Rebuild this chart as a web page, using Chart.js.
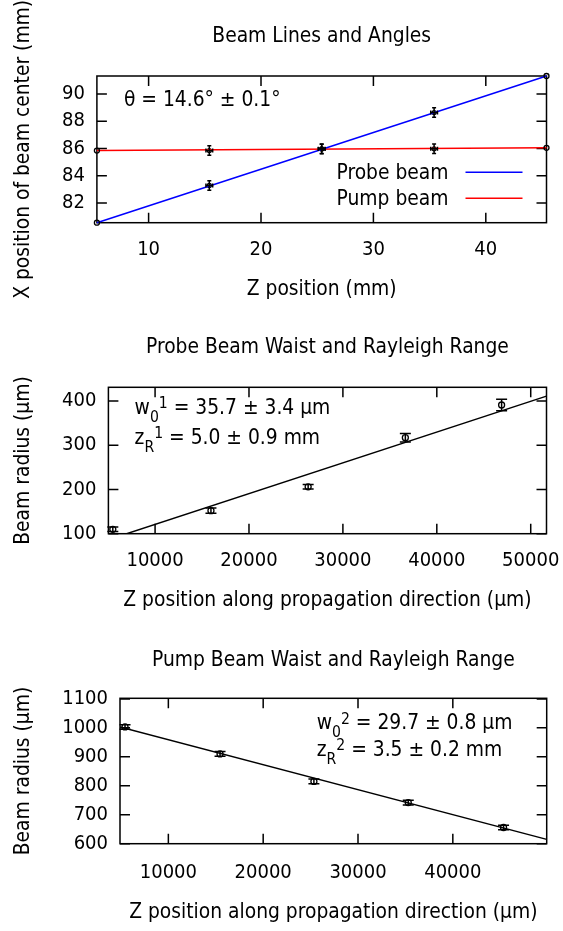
<!DOCTYPE html>
<html>
<head>
<meta charset="utf-8">
<script src="https://cdn.jsdelivr.net/npm/chart.js@4.4.1/dist/chart.umd.min.js"></script>
<style>
  body { margin: 0; background: #fff; width: 563px; height: 931px; overflow: hidden; }
  canvas { position: absolute; left: 0; }
</style>
</head>
<body>
<canvas id="angles" width="563" height="310" style="top:0"></canvas>
<canvas id="probe" width="563" height="310" style="top:310px"></canvas>
<canvas id="pump" width="563" height="311" style="top:620px"></canvas>
<script>
// --- beam lines (mm) ---
const z_mm = [15.4, 25.4, 35.4];
const probe_x = [83.29, 85.98, 88.64];
const pump_x = [85.85, 85.97, 85.98];
const x_err_mm = [0.35, 0.35, 0.35];
const z_err_mm = [0.3, 0.3, 0.3];
const fit_z_mm = [5.4, 45.4];
const probe_fit = [80.56, 91.32];
const pump_fit = [85.85, 86.05];
const ticks_z_mm = [10, 20, 30, 40];
const ticks_x_mm = [82, 84, 86, 88, 90];

// --- probe beam waist (um) ---
const probe_z = [5500, 15950, 26300, 36650, 46900];
const probe_w = [110, 152, 206, 317, 391];
const probe_err = [5, 6, 5, 9.5, 13];
const probe_fit_z = [6975, 51680];
const probe_fit_w = [100, 411];
const ticks_probe_z = [10000, 20000, 30000, 40000, 50000];
const ticks_probe_w = [100, 200, 300, 400];

// --- pump beam waist (um) ---
const pump_z = [5430, 15450, 25350, 35300, 45350];
const pump_w = [1003, 910, 815, 742, 656];
const pump_err = [8, 8, 8, 8, 8];
const pump_fit_z = [4900, 49900];
const pump_fit_w = [1003, 615];
const ticks_pump_z = [10000, 20000, 30000, 40000];
const ticks_pump_w = [600, 700, 800, 900, 1000, 1100];

const W = 563;
const FS = 20.8;      // titles, labels, notes
const FS_TICK = 20;   // tick labels
const family = '"DejaVu Sans Condensed", "Liberation Sans", sans-serif';
Chart.defaults.font.family = family;
Chart.defaults.font.size = FS;
Chart.defaults.color = '#000';

function pts(xs, ys) {
    return xs.map((v, i) => ({ x: v, y: ys[i] }));
}

// gnuplot style box with inward ticks on all four sides
const frame_plugin = {
    id: 'frame',
    beforeDatasetsDraw(chart) {
        const { ctx, chartArea: a, scales: { x, y } } = chart;
        ctx.save();
        ctx.strokeStyle = '#000';
        ctx.lineWidth = 1.5;
        ctx.beginPath();
        x.ticks.forEach(t => {
            const px = x.getPixelForValue(t.value);
            ctx.moveTo(px, a.bottom); ctx.lineTo(px, a.bottom - 10);
            ctx.moveTo(px, a.top); ctx.lineTo(px, a.top + 10);
        });
        y.ticks.forEach(t => {
            const py = y.getPixelForValue(t.value);
            ctx.moveTo(a.left, py); ctx.lineTo(a.left + 10, py);
            ctx.moveTo(a.right, py); ctx.lineTo(a.right - 10, py);
        });
        ctx.stroke();
        ctx.strokeRect(a.left, a.top, a.right - a.left, a.bottom - a.top);
        ctx.restore();
    }
};

const errorbar_plugin = {
    id: 'errorbars',
    afterDatasetsDraw(chart) {
        const { ctx, scales: { x, y } } = chart;
        chart.data.datasets.forEach((ds, i) => {
            if (!ds.yErr) return;
            const els = chart.getDatasetMeta(i).data;
            const cap = ds.capSize;
            ctx.save();
            ctx.strokeStyle = '#000';
            ctx.lineWidth = 1.5;
            ctx.beginPath();
            ds.data.forEach((d, j) => {
                const px = els[j].x, py = els[j].y;
                const y0 = y.getPixelForValue(d.y - ds.yErr[j]);
                const y1 = y.getPixelForValue(d.y + ds.yErr[j]);
                ctx.moveTo(px, y0); ctx.lineTo(px, y1);
                ctx.moveTo(px - cap, y0); ctx.lineTo(px + cap, y0);
                ctx.moveTo(px - cap, y1); ctx.lineTo(px + cap, y1);
                if (ds.xErr) {
                    const x0 = x.getPixelForValue(d.x - ds.xErr[j]);
                    const x1 = x.getPixelForValue(d.x + ds.xErr[j]);
                    ctx.moveTo(x0, py); ctx.lineTo(x1, py);
                    ctx.moveTo(x0, py - cap); ctx.lineTo(x0, py + cap);
                    ctx.moveTo(x1, py - cap); ctx.lineTo(x1, py + cap);
                }
            });
            ctx.stroke();
            ctx.restore();
        });
    }
};

// gnuplot key: text right aligned, sample line on the right
const key_plugin = {
    id: 'key',
    afterDraw(chart, args, opts) {
        if (!opts.rows) return;
        const { ctx, chartArea: a } = chart;
        ctx.save();
        ctx.font = FS + 'px ' + family;
        ctx.textAlign = 'right';
        ctx.textBaseline = 'middle';
        let row = 0;
        chart.data.datasets.forEach(ds => {
            if (!ds.inKey) return;
            const yy = a.top + opts.rows[row];
            ctx.fillStyle = '#000';
            ctx.fillText(ds.label, a.right - opts.textRight, yy + 1);
            ctx.strokeStyle = ds.borderColor;
            ctx.lineWidth = 1.5;
            ctx.beginPath();
            ctx.moveTo(a.right - opts.lineFrom, yy);
            ctx.lineTo(a.right - opts.lineTo, yy);
            ctx.stroke();
            row++;
        });
        ctx.restore();
    }
};

// labels with sub/superscripts: pieces are [text, -1 sub | 0 | 1 sup]
const notes_plugin = {
    id: 'notes',
    afterDraw(chart, args, opts) {
        if (!opts.lines) return;
        const { ctx, chartArea: a } = chart;
        ctx.save();
        ctx.fillStyle = '#000';
        ctx.textAlign = 'left';
        ctx.textBaseline = 'alphabetic';
        opts.lines.forEach((pieces, k) => {
            let xx = a.left + opts.dx;
            const base = a.top + opts.baselines[k];
            pieces.forEach(([txt, pos]) => {
                const size = pos ? FS * 0.75 : FS;
                ctx.font = size + 'px ' + family;
                const dy = pos === -1 ? FS * 0.38 : pos === 1 ? -FS * 0.27 : 0;
                ctx.fillText(txt, xx, base + dy);
                xx += ctx.measureText(txt).width;
            });
        });
        ctx.restore();
    }
};

function options_for(g, title, x_title, y_title, xr, yr, x_ticks, y_ticks) {
    const lh = FS * 1.2;
    const lt = FS_TICK * 1.2;
    return {
        responsive: false,
        animation: false,
        events: [],
        layout: { padding: { left: 0, top: 0, bottom: 0, right: W - g.right } },
        plugins: {
            legend: { display: false },
            tooltip: { enabled: false },
            title: {
                display: true,
                text: title,
                fullSize: false,
                color: '#000',
                font: { size: FS, weight: 'normal' },
                padding: { top: g.titleMid - lh / 2, bottom: g.top - g.titleMid - lh / 2 }
            }
        },
        scales: {
            x: {
                type: 'linear',
                min: xr[0],
                max: xr[1],
                grid: { display: false, drawTicks: false },
                border: { display: false },
                afterBuildTicks: s => { s.ticks = x_ticks.map(v => ({ value: v })); },
                afterFit: s => { s.height = g.h - g.bottom; s.paddingLeft = 0; s.paddingRight = 0; },
                ticks: {
                    autoSkip: false,
                    maxRotation: 0,
                    font: { size: FS_TICK },
                    padding: g.tickMid - g.bottom - lt / 2,
                    callback: v => String(v)
                },
                title: {
                    display: true,
                    text: x_title,
                    font: { size: FS },
                    padding: { top: 0, bottom: g.h - g.xTitleMid - lh / 2 }
                }
            },
            y: {
                type: 'linear',
                min: yr[0],
                max: yr[1],
                grid: { display: false, drawTicks: false },
                border: { display: false },
                afterBuildTicks: s => { s.ticks = y_ticks.map(v => ({ value: v })); },
                afterFit: s => { s.width = g.left; s.paddingTop = 0; s.paddingBottom = 0; },
                ticks: { autoSkip: false, font: { size: FS_TICK }, padding: 12, callback: v => String(v) },
                title: {
                    display: true,
                    text: y_title,
                    font: { size: FS },
                    padding: { top: 24 - lh / 2, bottom: 0 }
                }
            }
        }
    };
}

const marker = {
    pointRadius: 2.5,
    pointBorderColor: '#000',
    pointBackgroundColor: 'rgba(0,0,0,0)',
    pointBorderWidth: 1.3,
    showLine: false,
    clip: false
};

// chart 1
const opts1 = options_for(
    { h: 310, top: 76, bottom: 222.7, left: 96.9, right: 546.5, titleMid: 36.7, tickMid: 249.7, xTitleMid: 289.5 },
    'Beam Lines and Angles', 'Z position (mm)', 'X position of beam center (mm)',
    [5.4, 45.4], [80.56, 91.32], ticks_z_mm, ticks_x_mm);
opts1.plugins.key = { rows: [96.3, 122.3], textRight: 98, lineFrom: 81, lineTo: 24 };
opts1.plugins.notes = { dx: 27, baselines: [30], lines: [[['θ = 14.6° ± 0.1°', 0]]] };

new Chart(document.getElementById('angles'), {
    type: 'scatter',
    data: {
        datasets: [
            Object.assign({}, marker, { label: 'Probe beam', data: pts(fit_z_mm, probe_fit), showLine: true, borderColor: '#0000ff', borderWidth: 1.5, inKey: true }),
            Object.assign({}, marker, { label: 'Pump beam', data: pts(fit_z_mm, pump_fit), showLine: true, borderColor: '#ff0000', borderWidth: 1.5, inKey: true }),
            Object.assign({}, marker, { data: pts(z_mm, probe_x), yErr: x_err_mm, xErr: z_err_mm, capSize: 2, pointRadius: 2 }),
            Object.assign({}, marker, { data: pts(z_mm, pump_x), yErr: x_err_mm, xErr: z_err_mm, capSize: 2, pointRadius: 2 })
        ]
    },
    options: opts1,
    plugins: [frame_plugin, errorbar_plugin, key_plugin, notes_plugin]
});

// chart 2
const opts2 = options_for(
    { h: 310, top: 77.3, bottom: 223.7, left: 108.4, right: 546.5, titleMid: 37.5, tickMid: 250.7, xTitleMid: 290.7 },
    'Probe Beam Waist and Rayleigh Range', 'Z position along propagation direction (µm)', 'Beam radius (µm)',
    [5030, 51680], [100, 431], ticks_probe_z, ticks_probe_w);
opts2.plugins.notes = {
    dx: 26.2, baselines: [26.3, 56.3],
    lines: [
        [['w', 0], ['0', -1], ['1', 1], [' = 35.7 ± 3.4 µm', 0]],
        [['z', 0], ['R', -1], ['1', 1], [' = 5.0 ± 0.9 mm', 0]]
    ]
};

new Chart(document.getElementById('probe'), {
    type: 'scatter',
    data: {
        datasets: [
            { data: pts(probe_fit_z, probe_fit_w), showLine: true, borderColor: '#000', borderWidth: 1.5, pointRadius: 0 },
            Object.assign({}, marker, { data: pts(probe_z, probe_w), yErr: probe_err, capSize: 5.5, pointRadius: 3 })
        ]
    },
    options: opts2,
    plugins: [frame_plugin, errorbar_plugin, key_plugin, notes_plugin]
});

// chart 3
const opts3 = options_for(
    { h: 311, top: 78.3, bottom: 223.7, left: 120, right: 546.7, titleMid: 40.5, tickMid: 252.5, xTitleMid: 292.5 },
    'Pump Beam Waist and Rayleigh Range', 'Z position along propagation direction (µm)', 'Beam radius (µm)',
    [4900, 49900], [600, 1102], ticks_pump_z, ticks_pump_w);
opts3.plugins.notes = {
    dx: 196.7, baselines: [31, 57.7],
    lines: [
        [['w', 0], ['0', -1], ['2', 1], [' = 29.7 ± 0.8 µm', 0]],
        [['z', 0], ['R', -1], ['2', 1], [' = 3.5 ± 0.2 mm', 0]]
    ]
};

new Chart(document.getElementById('pump'), {
    type: 'scatter',
    data: {
        datasets: [
            { data: pts(pump_fit_z, pump_fit_w), showLine: true, borderColor: '#000', borderWidth: 1.5, pointRadius: 0 },
            Object.assign({}, marker, { data: pts(pump_z, pump_w), yErr: pump_err, capSize: 5.5, pointRadius: 3 })
        ]
    },
    options: opts3,
    plugins: [frame_plugin, errorbar_plugin, key_plugin, notes_plugin]
});
</script>
</body>
</html>
